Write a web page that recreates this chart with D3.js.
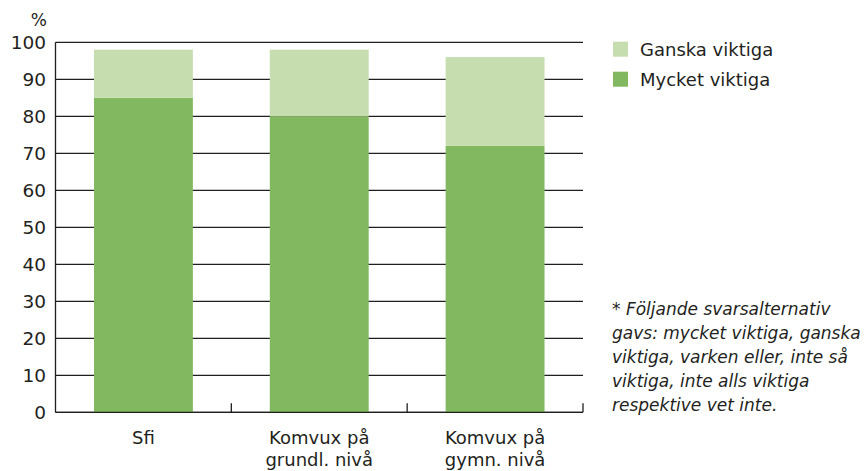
<!DOCTYPE html>
<html>
<head>
<meta charset="utf-8">
<script src="https://cdn.jsdelivr.net/npm/d3@7"></script>
<style>
  body { margin: 0; background: #fff; }
  svg text { font-family: "DejaVu Sans", sans-serif; fill: #231f20; }
</style>
</head>
<body>
<div id="chart"></div>
<script>
var categories = [["Sfi"], ["Komvux på", "grundl. nivå"], ["Komvux på", "gymn. nivå"]];
var mycket = [85, 80, 72];
var ganska = [13, 18, 24];
var yTicks = [0, 10, 20, 30, 40, 50, 60, 70, 80, 90, 100];
var legendLabels = ["Ganska viktiga", "Mycket viktiga"];
var footnote = ["* Följande svarsalternativ", "gavs: mycket viktiga, ganska", "viktiga, varken eller, inte så", "viktiga, inte alls viktiga", "respektive vet inte."];

var width = 868, height = 471;
var margin = {top: 42.3, left: 55.5, right: 583, bottom: 412.3};
var colLight = "#c6ddb0", colDark = "#82b85f";

var data = categories.map(function(c, i) {
  return {key: i, lines: c, m: mycket[i], g: ganska[i]};
});

var svg = d3.select("#chart").append("svg")
    .attr("width", width)
    .attr("height", height);

var x = d3.scaleBand()
    .domain(data.map(function(d) { return d.key; }))
    .range([margin.left, margin.right])
    .paddingInner(0.4375)
    .paddingOuter(0.21875);

var y = d3.scaleLinear()
    .domain([0, 100])
    .range([margin.bottom, margin.top]);

// gridlines
svg.append("g").selectAll("line")
    .data(yTicks)
    .enter().append("line")
    .attr("x1", margin.left)
    .attr("x2", margin.right)
    .attr("y1", function(d) { return y(d); })
    .attr("y2", function(d) { return y(d); })
    .attr("stroke", "#1f1f1f")
    .attr("stroke-width", 1.3);

// y tick labels
svg.append("g").selectAll("text")
    .data(yTicks)
    .enter().append("text")
    .attr("x", 46)
    .attr("y", function(d) { return y(d); })
    .attr("dy", "0.36em")
    .attr("text-anchor", "end")
    .style("font-size", "18.5px")
    .text(function(d) { return d; });

svg.append("text")
    .attr("x", 47)
    .attr("y", 26)
    .attr("text-anchor", "end")
    .style("font-size", "17px")
    .text("%");

// bars
svg.append("g").selectAll("rect")
    .data(data)
    .enter().append("rect")
    .attr("x", function(d) { return x(d.key); })
    .attr("width", x.bandwidth())
    .attr("y", function(d) { return y(d.m); })
    .attr("height", function(d) { return y(0) - y(d.m); })
    .attr("fill", colDark);

svg.append("g").selectAll("rect")
    .data(data)
    .enter().append("rect")
    .attr("x", function(d) { return x(d.key); })
    .attr("width", x.bandwidth())
    .attr("y", function(d) { return y(d.m + d.g); })
    .attr("height", function(d) { return y(d.m) - y(d.m + d.g); })
    .attr("fill", colLight);

// axes lines
svg.append("line")
    .attr("x1", margin.left).attr("x2", margin.left)
    .attr("y1", y(100)).attr("y2", y(0))
    .attr("stroke", "#1f1f1f").attr("stroke-width", 1.3);
svg.append("line")
    .attr("x1", margin.left).attr("x2", margin.right)
    .attr("y1", y(0)).attr("y2", y(0))
    .attr("stroke", "#1f1f1f").attr("stroke-width", 1.3);

// category boundary ticks
var step = x.step();
svg.append("g").selectAll("line")
    .data(data)
    .enter().append("line")
    .attr("x1", function(d) { return margin.left + step * (d.key + 1); })
    .attr("x2", function(d) { return margin.left + step * (d.key + 1); })
    .attr("y1", y(0))
    .attr("y2", y(0) - 9)
    .attr("stroke", "#1f1f1f")
    .attr("stroke-width", 1.3);

// x labels
var xl = svg.append("g").selectAll("text")
    .data(data)
    .enter().append("text")
    .attr("text-anchor", "middle")
    .style("font-size", "18px")
    .attr("x", function(d) { return x(d.key) + x.bandwidth() / 2; });
xl.selectAll("tspan")
    .data(function(d) { return d.lines; })
    .enter().append("tspan")
    .attr("x", function() { return d3.select(this.parentNode).attr("x"); })
    .attr("y", function(d, i) { return 444 + i * 22; })
    .text(function(d) { return d; });

// legend
var legendColors = [colLight, colDark];
var lg = svg.append("g").selectAll("g")
    .data(legendLabels)
    .enter().append("g")
    .attr("transform", function(d, i) { return "translate(613," + (41.7 + i * 30) + ")"; });
lg.append("rect")
    .attr("width", 15).attr("height", 15)
    .attr("fill", function(d, i) { return legendColors[i]; });
lg.append("text")
    .attr("x", 27)
    .attr("y", 14.5)
    .style("font-size", "18px")
    .text(function(d) { return d; });

// footnote
svg.append("g").selectAll("text")
    .data(footnote)
    .enter().append("text")
    .attr("x", 612)
    .attr("y", function(d, i) { return 315 + i * 24; })
    .style("font-size", "17px")
    .style("font-style", "italic")
    .text(function(d) { return d; });
</script>
</body>
</html>
